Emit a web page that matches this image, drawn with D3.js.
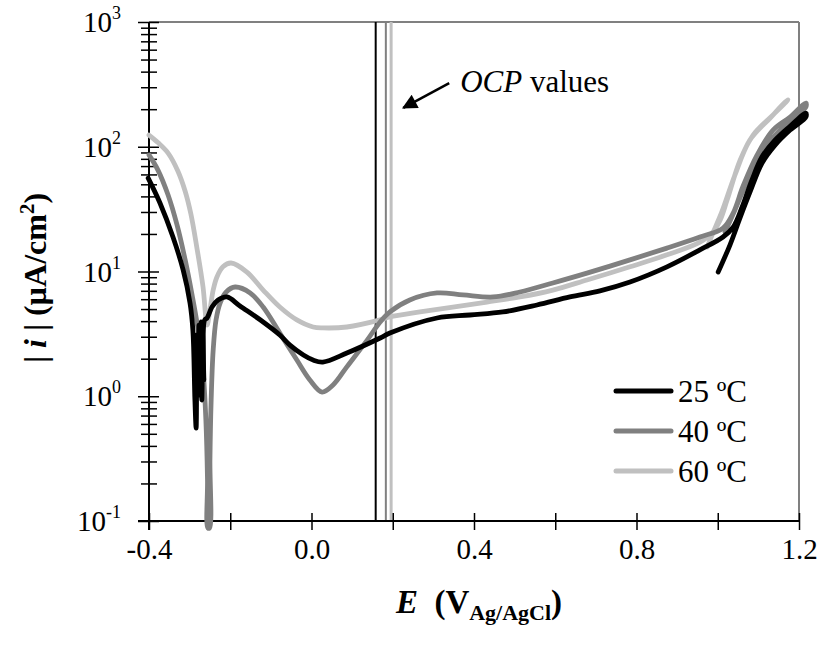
<!DOCTYPE html>
<html>
<head>
<meta charset="utf-8">
<script src="https://cdn.jsdelivr.net/npm/d3@7"></script>
<style>
  body { margin: 0; background: #fff; }
  text { font-family: "Liberation Serif", "Times New Roman", serif; fill: #000; }
</style>
</head>
<body>
<div id="chart"></div>
<script>
// polarisation scans, [E (V Ag/AgCl), |i| (uA/cm2)], forward then reverse
var scan25 = [
  [-0.402, 56], [-0.373, 35.4], [-0.341, 18.9], [-0.316, 10.3], [-0.299, 5.59], [-0.292, 3.4],
  [-0.287, 0.933], [-0.284, 0.556], [-0.282, 3.1], [-0.279, 1.02], [-0.277, 3.72], [-0.274, 1.12],
  [-0.272, 3.94], [-0.270, 0.933], [-0.267, 3.72], [-0.265, 1.35], [-0.263, 4.09],
  [-0.257, 4.24], [-0.245, 5.19], [-0.230, 5.91], [-0.208, 6.25], [-0.176, 5.29], [-0.119, 3.94],
  [-0.078, 3.1], [-0.053, 2.57], [-0.020, 2.14], [0.004, 1.95], [0.028, 1.88], [0.087, 2.22],
  [0.169, 2.93], [0.193, 3.21],
  [0.309, 4.24], [0.390, 4.48], [0.471, 4.74], [0.555, 5.39], [0.636, 6.25], [0.710, 7.0],
  [0.784, 8.24], [0.875, 10.9], [0.956, 14.9], [1.013, 18.9], [1.038, 22.7], [1.060, 32.9],
  [1.084, 54], [1.109, 83], [1.141, 113], [1.178, 146], [1.217, 186],
  [1.217, 173], [1.178, 136], [1.141, 103], [1.109, 74], [1.079, 43], [1.055, 27], [1.030, 16.3], [1.001, 9.9]
];
var scan40 = [
  [-0.400, 86], [-0.378, 65], [-0.353, 41], [-0.331, 23.6], [-0.311, 12.4], [-0.294, 6.49],
  [-0.279, 3.4], [-0.267, 1.62], [-0.260, 0.646], [-0.256, 0.213], [-0.255, 0.088], [-0.251, 0.088],
  [-0.250, 0.308], [-0.247, 0.933], [-0.242, 2.35], [-0.235, 4.09], [-0.225, 5.59], [-0.210, 6.85],
  [-0.188, 7.51], [-0.151, 6.73], [-0.119, 5.19], [-0.078, 3.21], [-0.036, 1.95], [-0.004, 1.35],
  [0.026, 1.08], [0.053, 1.23], [0.087, 1.72], [0.137, 2.82], [0.169, 3.94], [0.193, 4.74],
  [0.242, 5.91], [0.309, 6.73], [0.373, 6.49], [0.447, 6.25], [0.513, 6.85], [0.594, 8.09],
  [0.678, 9.7], [0.784, 12.4], [0.875, 15.4], [0.956, 18.9], [1.013, 22.3], [1.038, 29.4],
  [1.062, 48], [1.097, 86], [1.136, 136], [1.178, 173], [1.217, 224],
  [1.217, 208], [1.178, 161], [1.136, 118], [1.097, 74], [1.067, 48], [1.042, 31], [1.018, 20.7]
];
var scan60 = [
  [-0.400, 124], [-0.378, 108], [-0.353, 89], [-0.329, 64], [-0.311, 44], [-0.297, 29],
  [-0.282, 15.4], [-0.267, 7.51], [-0.257, 3.72], [-0.250, 4.91], [-0.242, 7.1], [-0.233, 9.0],
  [-0.218, 10.9], [-0.198, 11.7], [-0.159, 9.9], [-0.119, 7.1], [-0.078, 5.19], [-0.036, 4.09],
  [0.004, 3.59], [0.028, 3.53], [0.087, 3.59], [0.169, 4.09], [0.193, 4.32], [0.267, 4.74],
  [0.348, 5.19], [0.432, 5.69], [0.513, 6.25], [0.594, 7.1], [0.678, 8.55], [0.784, 10.9],
  [0.875, 13.6], [0.956, 17.2], [0.988, 20.7], [1.006, 25.9], [1.023, 37.4], [1.055, 78],
  [1.087, 124], [1.136, 180], [1.173, 237],
  [1.166, 228], [1.129, 170], [1.079, 113], [1.042, 59], [1.010, 30], [0.986, 19.6], [0.974, 15.7]
];

var seriesNames = ["25 ºC", "40 ºC", "60 ºC"];
var seriesColors = ["#000000", "#808080", "#c0c0c0"];
var ocpValues = [0.158, 0.183, 0.196];
var xTicks = [-0.4, -0.2, 0.0, 0.2, 0.4, 0.6, 0.8, 1.0, 1.2];
var xLabels = [-0.4, 0.0, 0.4, 0.8, 1.2];
var yDecades = [-1, 0, 1, 2, 3];

var W = 822, H = 646;
var pL = 149, pR = 799, pT = 22, pB = 521;

var svg = d3.select("#chart").append("svg")
  .attr("width", W).attr("height", H);

var x = d3.scaleLinear().domain([-0.4, 1.2]).range([pL, pR]);
var y = d3.scaleLog().domain([0.1, 1000]).range([pB, pT]);

// frame: top/right grey, axes black
svg.append("line").attr("x1", pL).attr("x2", pR).attr("y1", pT).attr("y2", pT)
  .attr("stroke", "#808080").attr("stroke-width", 2);
svg.append("line").attr("x1", pR).attr("x2", pR).attr("y1", pT).attr("y2", pB)
  .attr("stroke", "#808080").attr("stroke-width", 2);

// OCP lines
var ocpWidths = [2, 2, 3];
ocpValues.forEach(function (v, k) {
  svg.append("line")
    .attr("x1", x(v)).attr("x2", x(v))
    .attr("y1", pT).attr("y2", pB)
    .attr("stroke", seriesColors[k]).attr("stroke-width", ocpWidths[k]);
});

// x axis
var xAxis = svg.append("g")
  .attr("transform", "translate(0," + pB + ")")
  .call(d3.axisBottom(x).tickValues(xTicks).tickSize(8)
    .tickFormat(function (d) {
      return xLabels.some(function (l) { return Math.abs(l - d) < 1e-9; }) ? d.toFixed(1) : "";
    }));
xAxis.select(".domain").remove();
xAxis.selectAll(".tick line").attr("y1", -8).attr("y2", 9).attr("stroke", "#000").attr("stroke-width", 1.5);
xAxis.selectAll(".tick text").attr("y", 17).attr("dy", "0.71em").attr("fill", "#000")
  .style("font-size", "29px").style("font-family", "Liberation Serif");

// y axis minor ticks
var minor = [];
yDecades.slice(0, -1).forEach(function (p) {
  for (var m = 2; m <= 9; m++) minor.push(m * Math.pow(10, p));
});
var yMinor = svg.append("g")
  .attr("transform", "translate(" + pL + ",0)")
  .call(d3.axisLeft(y).tickValues(minor).tickFormat(""));
yMinor.select(".domain").remove();
yMinor.selectAll(".tick line").attr("x1", -8).attr("x2", 8).attr("stroke", "#000").attr("stroke-width", 1.5);

var yMajor = svg.append("g")
  .attr("transform", "translate(" + pL + ",0)")
  .call(d3.axisLeft(y).tickValues(yDecades.map(function (p) { return Math.pow(10, p); })).tickFormat(""));
yMajor.select(".domain").remove();
yMajor.selectAll(".tick line").attr("x1", -11).attr("x2", 10).attr("stroke", "#000").attr("stroke-width", 1.5);

yDecades.forEach(function (p) {
  var t = svg.append("text")
    .attr("x", 121).attr("y", y(Math.pow(10, p)) + 10)
    .attr("text-anchor", "end")
    .style("font-size", "29px");
  t.append("tspan").text("10");
  t.append("tspan").attr("dy", -13).style("font-size", "18px").text(p);
});

svg.append("line").attr("x1", pL).attr("x2", pL).attr("y1", pT).attr("y2", pB + 9)
  .attr("stroke", "#000").attr("stroke-width", 2);
svg.append("line").attr("x1", pL - 11).attr("x2", pR).attr("y1", pB).attr("y2", pB)
  .attr("stroke", "#000").attr("stroke-width", 2);

// curves, black drawn last so it sits on top
var line = d3.line()
  .x(function (d) { return x(d[0]); })
  .y(function (d) { return y(d[1]); })
  .curve(d3.curveCatmullRom.alpha(0.5));

var scans = [scan25, scan40, scan60];
[2, 1, 0].forEach(function (k) {
  svg.append("path")
    .datum(scans[k])
    .attr("d", line)
    .attr("fill", "none")
    .attr("stroke", seriesColors[k])
    .attr("stroke-width", 4.8)
    .attr("stroke-linejoin", "round")
    .attr("stroke-linecap", "round");
});

// OCP annotation
svg.append("defs").append("marker")
  .attr("id", "head").attr("viewBox", "0 0 10 10")
  .attr("refX", 9).attr("refY", 5)
  .attr("markerWidth", 7).attr("markerHeight", 6)
  .attr("markerUnits", "strokeWidth")
  .attr("orient", "auto")
  .append("path").attr("d", "M0,0 L10,5 L0,10 Z").attr("fill", "#000");

svg.append("line")
  .attr("x1", x(0.339)).attr("y1", y(324))
  .attr("x2", x(0.226)).attr("y2", y(205))
  .attr("stroke", "#000").attr("stroke-width", 2.5)
  .attr("marker-end", "url(#head)");

var ocp = svg.append("text").attr("x", x(0.366)).attr("y", 92).style("font-size", "31px");
ocp.append("tspan").style("font-style", "italic").text("OCP");
ocp.append("tspan").text(" values");

// legend
seriesNames.forEach(function (n, k) {
  var ly = 391 + k * 40;
  svg.append("line")
    .attr("x1", 616).attr("x2", 671).attr("y1", ly).attr("y2", ly)
    .attr("stroke", seriesColors[k]).attr("stroke-width", 5)
    .attr("stroke-linecap", "round");
  svg.append("text").attr("x", 678).attr("y", ly + 11)
    .style("font-size", "31px").text(n);
});

// axis titles
var xt = svg.append("text")
  .attr("x", 479).attr("y", 613)
  .attr("text-anchor", "middle")
  .style("font-size", "33px").style("font-weight", "bold");
xt.append("tspan").style("font-style", "italic").text("E");
xt.append("tspan").text("\u00a0 (V");
xt.append("tspan").attr("dy", 7).style("font-size", "22px").text("Ag/AgCl");
xt.append("tspan").attr("dy", -7).text(")");

var yt = svg.append("text")
  .attr("transform", "translate(46,278) rotate(-90)")
  .attr("text-anchor", "middle")
  .style("font-size", "32px").style("font-weight", "bold");
yt.append("tspan").text("| ");
yt.append("tspan").style("font-style", "italic").text("i");
yt.append("tspan").text(" | (µA/cm");
yt.append("tspan").attr("dy", -12).style("font-size", "21px").text("2");
yt.append("tspan").attr("dy", 12).text(")");
</script>
</body>
</html>
